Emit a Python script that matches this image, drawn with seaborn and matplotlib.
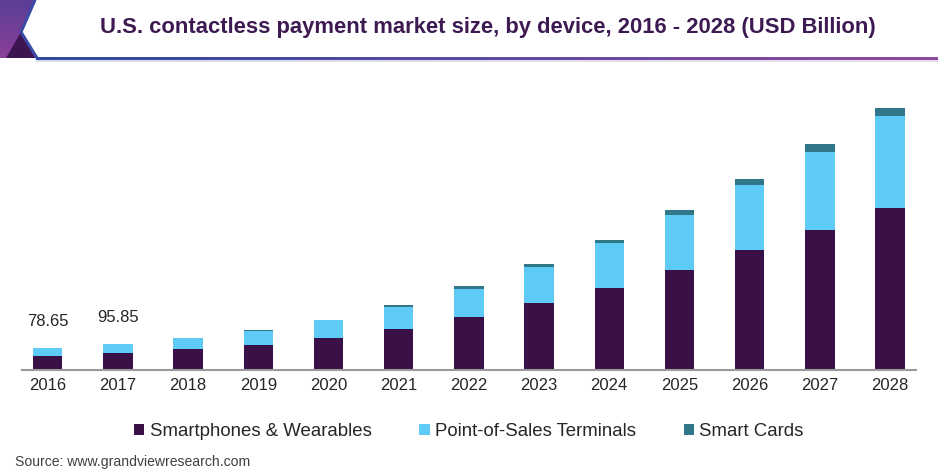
import numpy as np
import pandas as pd
import matplotlib
matplotlib.use("Agg")
import matplotlib.pyplot as plt
import seaborn as sns
from matplotlib.patches import Patch, Polygon

# ---------------- data ----------------
years = ["2016", "2017", "2018", "2019", "2020", "2021", "2022",
         "2023", "2024", "2025", "2026", "2027", "2028"]
smartphones = [52.3, 63.1, 76.2, 91.8, 117.2, 148.8, 193.5,
               244.3, 298.4, 363.7, 433.8, 508.9, 588.8]
pos_terminals = [26.0, 32.3, 39.9, 50.8, 64.3, 81.0, 101.6,
                 129.6, 161.9, 197.1, 238.5, 281.7, 334.0]
smart_cards = [0.35, 0.45, 0.6, 1.0, 1.5, 6.2, 9.8,
               9.8, 12.3, 18.2, 21.8, 28.0, 27.6]
series_names = ["Smartphones & Wearables", "Point-of-Sales Terminals", "Smart Cards"]
label_years = ["2016", "2017"]
label_texts = ["78.65", "95.85"]

title = "U.S. contactless payment market size, by device, 2016 - 2028 (USD Billion)"
source = "Source: www.grandviewresearch.com"

# ---------------- style ----------------
sns.set_theme(style="white")
plt.rcParams["font.family"] = ["Liberation Sans", "DejaVu Sans"]

c_dark = "#3a1146"
c_light = "#5ecbf6"
c_teal = "#2f7789"

df = pd.DataFrame({"year": years,
                   "s1": smartphones,
                   "s2": pos_terminals,
                   "s3": smart_cards})
df["c1"] = df["s1"]
df["c2"] = df["s1"] + df["s2"]
df["c3"] = df["c2"] + df["s3"]

W, H = 938, 469
fig = plt.figure(figsize=(W / 100, H / 100), dpi=100)
ax = fig.add_axes([21.7 / W, (H - 370) / H, (916 - 21.7) / W, 275.5 / H])

bw = 0.42
sns.barplot(data=df, x="year", y="c3", color=c_teal, width=bw, saturation=1,
            ax=ax, order=years, linewidth=0)
sns.barplot(data=df, x="year", y="c2", color=c_light, width=bw, saturation=1,
            ax=ax, order=years, linewidth=0)
sns.barplot(data=df, x="year", y="c1", color=c_dark, width=bw, saturation=1,
            ax=ax, order=years, linewidth=0)

ax.set_xlim(-0.37, len(years) - 1 + 0.37)
ax.set_ylim(0, 1000)
ax.set_xlabel("")
ax.set_ylabel("")
ax.set_yticks([])
for s in ["top", "right", "left"]:
    ax.spines[s].set_visible(False)
ax.spines["bottom"].set_color("#9a9a9a")
ax.spines["bottom"].set_linewidth(1.5)
ax.tick_params(axis="x", length=0, pad=6, labelsize=12, labelcolor="#262626")

for yr, txt in zip(label_years, label_texts):
    i = years.index(yr)
    ax.annotate(txt, xy=(i, df["c3"][i]), xytext=(0, 19.0),
                textcoords="offset points", ha="center", va="center",
                fontsize=12, color="#262626")

# legend
handles = [Patch(facecolor=c, edgecolor="none") for c in (c_dark, c_light, c_teal)]
fig.legend(handles, series_names, loc="center", bbox_to_anchor=(0.5, 1 - 431.7 / H),
           ncol=3, frameon=False, fontsize=13.4, handlelength=0.55, handleheight=0.55,
           handletextpad=0.3, columnspacing=2.55, labelcolor="#262626")

# source
fig.text(15 / W, 1 - 461.7 / H, source, ha="left", va="center", fontsize=10.1, color="#404040")

# title
fig.text(487.5 / W, 1 - 28 / H, title, ha="center", va="center", fontsize=15.8,
         fontweight="bold", color="#3d1a52")

# header decoration (pixel coordinates overlay)
deco = fig.add_axes([0, 0, 1, 1], zorder=-1)
deco.set_xlim(0, W)
deco.set_ylim(H, 0)
deco.axis("off")
grad = np.linspace(0, 1, 60).reshape(-1, 1)
cmap = matplotlib.colors.LinearSegmentedColormap.from_list("hdr", ["#5a3e96", "#8b3f98"])
img = deco.imshow(grad, extent=(0, 40, 58, 0), cmap=cmap, aspect="auto", zorder=1)
clip = Polygon([(0, 0), (35, 0), (21, 32), (37, 58), (0, 58)], closed=True,
               transform=deco.transData, facecolor="none", edgecolor="none")
deco.add_patch(clip)
img.set_clip_path(clip)
deco.add_patch(Polygon([(6, 58), (21, 32), (35, 58)], closed=True,
                       facecolor="#3b1450", edgecolor="none", zorder=2))
deco.plot([35, 21, 37], [0, 32, 58], color="#3a4aa5", lw=2.2, zorder=3,
          solid_joinstyle="miter")
hgrad = np.linspace(0, 1, 300).reshape(1, -1)
lcmap = matplotlib.colors.LinearSegmentedColormap.from_list("ln", ["#2d4ba0", "#8e4a9e"])
deco.imshow(hgrad, extent=(36, W, 60.5, 57.5), cmap=lcmap, aspect="auto", zorder=3,
            interpolation="bilinear")
deco.imshow(hgrad, extent=(36, W, 62.5, 60.5), cmap=matplotlib.colors.LinearSegmentedColormap.from_list(
    "sh", ["#d8dcec", "#e8dcec"]), aspect="auto", zorder=2)
deco.set_xlim(0, W)
deco.set_ylim(H, 0)

fig.savefig("out.png", dpi=100)
